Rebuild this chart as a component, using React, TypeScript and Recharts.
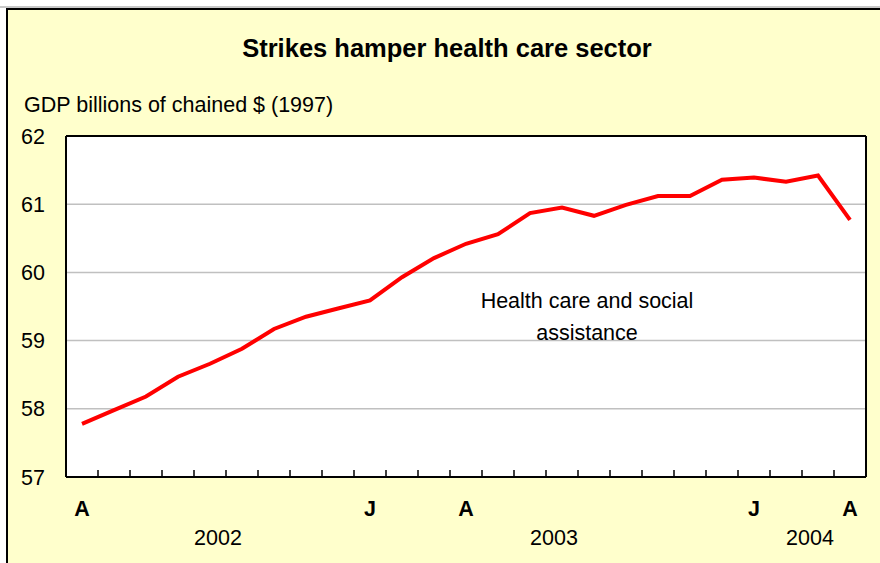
import { CartesianGrid, Line, LineChart, XAxis, YAxis } from 'recharts'

// monthly, Apr 2002 .. Apr 2004
const MONTHS = ['A', 'M', 'J', 'J', 'A', 'S', 'O', 'N', 'D', 'J', 'F', 'M', 'A', 'M', 'J', 'J', 'A', 'S', 'O', 'N', 'D', 'J', 'F', 'M', 'A']
const GDP = [
  57.78, 57.98, 58.18, 58.47, 58.66, 58.88, 59.17, 59.35, 59.47, 59.59, 59.93, 60.21, 60.42, 60.56, 60.87, 60.95,
  60.83, 60.99, 61.12, 61.12, 61.36, 61.39, 61.33, 61.42, 60.77,
]
const LABELED_MONTHS = [0, 9, 12, 21, 24]
const YEARS = ['2002', '2003', '2004']
const YEAR_SPANS = [
  [0, 8],
  [9, 20],
  [21, 24],
]
const Y_TICKS = [57, 58, 59, 60, 61, 62]

const FONT = 'Arial, "Liberation Sans", Helvetica, sans-serif'
const BG = '#FFFFCC'
const TXT = 21.5

const data = GDP.map((v, i) => ({ idx: i, month: MONTHS[i], gdp: v }))
const boundaryTicks = MONTHS.slice(1).map((_, i) => i + 0.5)
const yearTicks = YEAR_SPANS.map(([a, b]) => (a + b) / 2)
const X_DOMAIN = [-0.5, MONTHS.length - 0.5]

function YearTick(props: any) {
  const { x, y, payload } = props
  const k = yearTicks.indexOf(payload.value)
  return (
    <text x={x + 8} y={y + 25} textAnchor="middle" fontSize={TXT} fontFamily={FONT} fill="#000">
      {YEARS[k]}
    </text>
  )
}

export default function App() {
  return (
    <div style={{ position: 'absolute', left: 0, top: 0, width: 880, height: 563, overflow: 'hidden', background: '#fff' }}>
      <div
        style={{
          position: 'absolute',
          left: 6,
          top: 8,
          width: 900,
          height: 600,
          border: '2px solid #000',
          background: BG,
        }}
      />
      <div style={{ position: 'absolute', left: 0, top: 6, width: 880, height: 2, background: '#c8c8c8' }} />
      <div style={{ position: 'absolute', left: 0, top: 0 }}>
        <LineChart width={880} height={563} data={data} margin={{ top: 135, right: 13, left: 21, bottom: 15 }}>
          <CartesianGrid horizontal vertical={false} stroke="#c0c0c0" strokeWidth={1.5} fill="#fff" />
          <XAxis
            dataKey="idx"
            type="number"
            domain={X_DOMAIN}
            ticks={boundaryTicks}
            tickFormatter={() => ''}
            tick={{ fontSize: 1 }}
            tickSize={-7}
            tickLine={{ stroke: '#000', strokeWidth: 1.5 }}
            axisLine={{ stroke: '#000', strokeWidth: 2 }}
            height={1}
            interval={0}
            allowDecimals
          />
          <XAxis
            xAxisId="months"
            dataKey="idx"
            type="number"
            domain={X_DOMAIN}
            ticks={LABELED_MONTHS}
            tickFormatter={(v) => MONTHS[v]}
            tick={{ fill: '#000', fontSize: TXT, fontWeight: 'bold', fontFamily: FONT }}
            tickLine={false}
            axisLine={false}
            tickSize={0}
            tickMargin={23}
            height={40}
            interval={0}
          />
          <XAxis
            xAxisId="years"
            dataKey="idx"
            type="number"
            domain={X_DOMAIN}
            ticks={yearTicks}
            tick={<YearTick />}
            tickLine={false}
            axisLine={false}
            tickSize={0}
            height={30}
            interval={0}
            allowDecimals
          />
          <XAxis
            xAxisId="top"
            orientation="top"
            dataKey="idx"
            type="number"
            domain={X_DOMAIN}
            tick={false}
            tickLine={false}
            axisLine={{ stroke: '#000', strokeWidth: 2 }}
            height={1}
          />
          <YAxis
            domain={[57, 62]}
            ticks={Y_TICKS}
            tick={{ fill: '#000', fontSize: TXT, fontFamily: FONT }}
            tickLine={false}
            tickSize={0}
            tickMargin={21}
            axisLine={{ stroke: '#000', strokeWidth: 2 }}
            width={45}
            interval={0}
          />
          <YAxis
            yAxisId="right"
            orientation="right"
            domain={[57, 62]}
            tick={false}
            tickLine={false}
            axisLine={{ stroke: '#000', strokeWidth: 2 }}
            width={1}
          />
          <Line
            type="linear"
            dataKey="gdp"
            stroke="#ff0000"
            strokeWidth={4}
            dot={false}
            isAnimationActive={false}
          />
        </LineChart>
      </div>
      <svg width={880} height={563} style={{ position: 'absolute', left: 0, top: 0, pointerEvents: 'none' }}>
        <text x={447} y={57} textAnchor="middle" fontSize={25.5} fontWeight="bold" fontFamily={FONT} fill="#000">
          Strikes hamper health care sector
        </text>
        <text x={24} y={112} fontSize={TXT} fontFamily={FONT} fill="#000">
          GDP billions of chained $ (1997)
        </text>
        <text x={587} y={308} textAnchor="middle" fontSize={TXT} fontFamily={FONT} fill="#000">
          Health care and social
        </text>
        <text x={587} y={340} textAnchor="middle" fontSize={TXT} fontFamily={FONT} fill="#000">
          assistance
        </text>
      </svg>
    </div>
  )
}
